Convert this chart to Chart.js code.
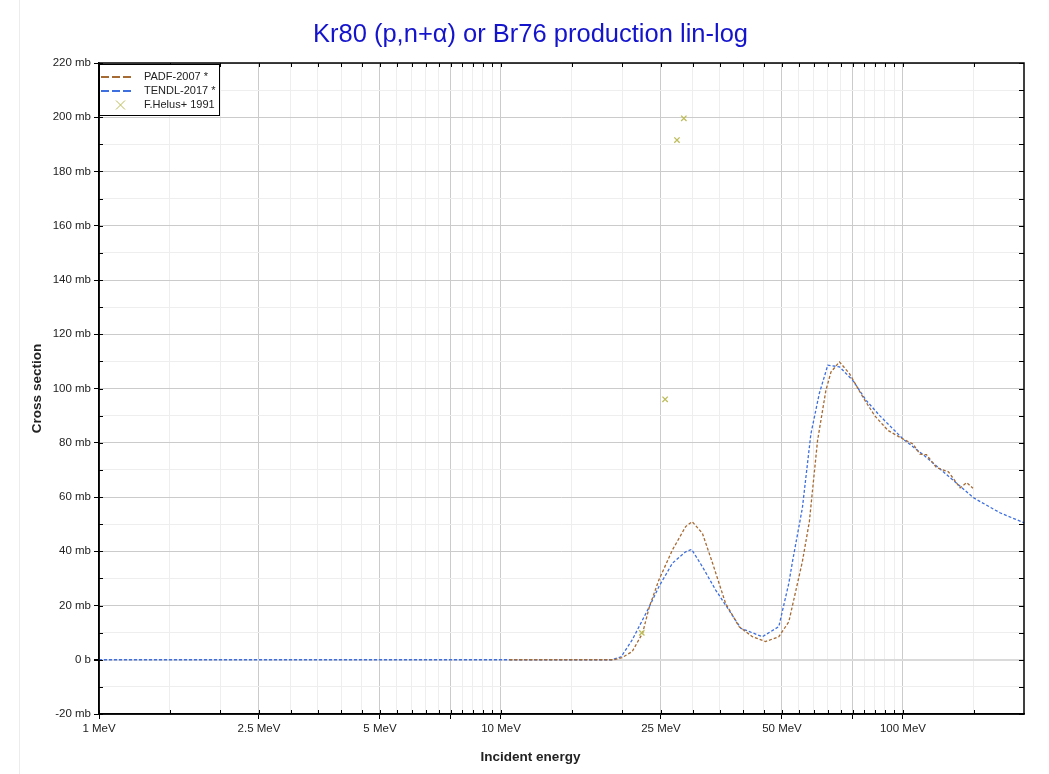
<!DOCTYPE html>
<html>
<head>
<meta charset="utf-8">
<script src="https://cdn.jsdelivr.net/npm/chart.js@4.4.0/dist/chart.umd.min.js"></script>
<style>
  body { margin: 0; background: #fff; }
  canvas { display: block; }
</style>
</head>
<body>
<canvas id="chart" width="1049" height="774"></canvas>
<script>
// PADF-2007 (brown): energy in MeV, cross section in mb
const padfEnergy = [10.5, 19.1, 20.0, 21.2, 22.5, 23.4, 24.7, 26.7, 28.8, 29.9, 31.7, 33.6, 36.2, 39.1, 42.2, 45.5, 49.1, 52.0, 56.2, 58.5, 61.3, 64.3, 66.2, 69.5, 73.6, 79.5, 85.0, 91.8, 100, 106, 110.2, 114.4, 121.2, 129.7, 138.7, 144.1, 149.3];
const padfXs = [0, 0, 0.8, 3.0, 9.8, 19.6, 29.4, 40.5, 49.1, 50.9, 46.6, 35.6, 20.8, 12.2, 8.5, 6.7, 8.5, 14.0, 36.2, 51.0, 80.8, 99.3, 106.1, 109.8, 105.5, 96.8, 90.0, 84.5, 81.4, 79.5, 75.8, 75.6, 70.8, 69.3, 63.4, 65.3, 63.2];

// TENDL-2017 (blue)
const tendlEnergy = [1, 18.9, 19.9, 21.2, 23.4, 24.7, 26.7, 28.8, 29.8, 31.7, 34.2, 36.9, 39.5, 44.7, 49.1, 52.0, 53.1, 56.2, 59.0, 61.9, 65.0, 69.5, 75.0, 81.0, 87.5, 100, 114.4, 130.9, 149.8, 174.7, 200];
const tendlXs = [0, 0, 1.1, 7.3, 19.6, 26.9, 35.6, 39.8, 40.7, 34.3, 25.7, 18.3, 11.6, 8.5, 12.2, 28.2, 36.2, 56.0, 83.2, 98.1, 108.6, 108.0, 103.0, 95.6, 90.0, 81.4, 74.6, 67.2, 59.7, 54.1, 50.5];

// F.Helus+ 1991 measurements
const helusEnergy = [22.4, 25.6, 27.4, 28.5];
const helusXs = [9.9, 96.0, 191.6, 199.6];

// axis ticks
const xTickValues = [1, 1.5, 2, 2.5, 3, 3.5, 4, 4.5, 5, 5.5, 6, 6.5, 7, 7.5, 8, 8.5, 9, 9.5, 10, 15, 20, 25, 30, 35, 40, 45, 50, 55, 60, 65, 70, 75, 80, 85, 90, 95, 100, 150];
const xMajorValues = [1, 2.5, 5, 7.5, 10, 25, 50, 75, 100];
const xLabelValues = [1, 2.5, 5, 10, 25, 50, 100];
const xLabels = ['1 MeV', '2.5 MeV', '5 MeV', '10 MeV', '25 MeV', '50 MeV', '100 MeV'];

const fontFamily = 'Arial, "Liberation Sans", sans-serif';
const padfColor = '#a66a33';
const tendlColor = '#3d6fe0';
const helusColor = '#bdbd5a';

function toPoints(xs, ys) {
    return xs.map((x, i) => ({x: x, y: ys[i]}));
}

function xLabel(v) {
    const i = xLabelValues.indexOf(v);
    return i >= 0 ? xLabels[i] : '';
}

function yLabel(v) {
    if (v % 20 !== 0) return '';
    return v === 0 ? '0 b' : v + ' mb';
}

// faint page edge line at the left
const pageEdge = {
    id: 'pageEdge',
    beforeDraw(chart) {
        const c = chart.ctx;
        c.save();
        c.strokeStyle = '#ececec';
        c.lineWidth = 1;
        c.beginPath();
        c.moveTo(19.5, 0);
        c.lineTo(19.5, chart.height);
        c.stroke();
        c.restore();
    }
};

// frame round the plot area, with the small inner ticks on all four sides
const frameTicks = {
    id: 'frameTicks',
    afterDraw(chart) {
        const {ctx, chartArea: a, scales} = chart;
        ctx.save();
        ctx.strokeStyle = '#000';
        ctx.lineWidth = 1;
        ctx.beginPath();
        scales.x.ticks.forEach(t => {
            const px = Math.round(scales.x.getPixelForValue(t.value)) + 0.5;
            ctx.moveTo(px, a.bottom);
            ctx.lineTo(px, a.bottom - 4);
            ctx.moveTo(px, a.top);
            ctx.lineTo(px, a.top + 4);
        });
        scales.y.ticks.forEach(t => {
            const py = Math.round(scales.y.getPixelForValue(t.value)) + 0.5;
            ctx.moveTo(a.left, py);
            ctx.lineTo(a.left + 4, py);
            ctx.moveTo(a.right, py);
            ctx.lineTo(a.right - 5, py);
        });
        ctx.stroke();
        ctx.lineWidth = 1.5;
        ctx.strokeRect(a.left, a.top, a.right - a.left, a.bottom - a.top);
        ctx.restore();
    }
};

// legend box in the top left corner of the plot
const cornerLegend = {
    id: 'cornerLegend',
    afterDraw(chart) {
        const {ctx, chartArea: a} = chart;
        const x0 = a.left, y0 = a.top + 1;
        ctx.save();
        ctx.fillStyle = '#fff';
        ctx.fillRect(x0, y0, 120, 51);
        ctx.strokeStyle = '#000';
        ctx.lineWidth = 1;
        ctx.strokeRect(x0 + 0.5, y0 + 0.5, 120, 51);

        const rows = [
            {text: 'PADF-2007 *', color: padfColor, kind: 'line'},
            {text: 'TENDL-2017 *', color: tendlColor, kind: 'line'},
            {text: 'F.Helus+ 1991', color: helusColor, kind: 'cross'}
        ];
        ctx.font = '11px ' + fontFamily;
        ctx.textBaseline = 'middle';
        rows.forEach((r, i) => {
            const y = y0 + 13 + i * 14;
            ctx.strokeStyle = r.color;
            if (r.kind === 'line') {
                ctx.lineWidth = 2;
                ctx.setLineDash([8, 3]);
                ctx.beginPath();
                ctx.moveTo(x0 + 2, y);
                ctx.lineTo(x0 + 33, y);
                ctx.stroke();
                ctx.setLineDash([]);
            } else {
                ctx.lineWidth = 1;
                ctx.beginPath();
                ctx.moveTo(x0 + 17, y - 4.5);
                ctx.lineTo(x0 + 26, y + 4.5);
                ctx.moveTo(x0 + 26, y - 4.5);
                ctx.lineTo(x0 + 17, y + 4.5);
                ctx.stroke();
            }
            ctx.fillStyle = '#222';
            ctx.fillText(r.text, x0 + 45, y);
        });
        ctx.restore();
    }
};

const ctx = document.getElementById('chart').getContext('2d');

new Chart(ctx, {
    type: 'line',
    data: {
        datasets: [
            {
                type: 'scatter',
                label: 'F.Helus+ 1991',
                data: toPoints(helusEnergy, helusXs),
                pointStyle: 'crossRot',
                pointRadius: 3.8,
                borderColor: helusColor,
                backgroundColor: helusColor,
                borderWidth: 1.3,
                order: 0
            },
            {
                label: 'PADF-2007 *',
                data: toPoints(padfEnergy, padfXs),
                borderColor: padfColor,
                borderWidth: 1.3,
                borderDash: [3, 2],
                pointRadius: 0,
                tension: 0,
                fill: false,
                order: 1
            },
            {
                label: 'TENDL-2017 *',
                data: toPoints(tendlEnergy, tendlXs),
                borderColor: tendlColor,
                borderWidth: 1.3,
                borderDash: [3, 2],
                pointRadius: 0,
                tension: 0,
                fill: false,
                order: 2
            }
        ]
    },
    options: {
        responsive: false,
        animation: false,
        layout: {padding: {left: 12, right: 0, top: 0, bottom: 0}},
        plugins: {
            legend: {display: false},
            tooltip: {enabled: false},
            title: {
                display: true,
                text: 'Kr80 (p,n+α) or Br76 production lin-log',
                color: '#1414cc',
                font: {size: 25.5, family: fontFamily, weight: 'normal'},
                padding: {top: 19.7, bottom: 12.7}
            },
            subtitle: {
                display: true,
                position: 'bottom',
                text: 'Incident energy',
                color: '#222',
                font: {size: 13.5, family: fontFamily, weight: 'bold'},
                padding: {top: 4, bottom: 8.9}
            }
        },
        scales: {
            x: {
                type: 'logarithmic',
                min: 1,
                max: 200,
                afterBuildTicks: s => { s.ticks = xTickValues.map(v => ({value: v})); },
                afterFit: s => { s.height = 30.9; },
                ticks: {
                    autoSkip: false,
                    maxRotation: 0,
                    padding: 3,
                    color: '#222',
                    font: {size: 11.5, family: fontFamily},
                    callback: v => xLabel(v)
                },
                grid: {
                    color: c => xMajorValues.includes(c.tick.value) ? '#cbcbcb' : '#eeeeee',
                    tickColor: c => xMajorValues.includes(c.tick.value) ? '#000' : 'rgba(0,0,0,0)',
                    tickLength: 5
                },
                border: {color: '#000', width: 1.5}
            },
            y: {
                type: 'linear',
                min: -20,
                max: 220,
                afterFit: s => { s.width = 87; },
                ticks: {
                    stepSize: 10,
                    autoSkip: false,
                    padding: 3,
                    color: '#222',
                    font: {size: 11.5, family: fontFamily},
                    callback: v => yLabel(v)
                },
                grid: {
                    color: c => c.tick.value === 0 ? '#dadada' : (c.tick.value % 20 === 0 ? '#cbcbcb' : '#eeeeee'),
                    lineWidth: c => c.tick.value === 0 ? 2 : 1,
                    tickColor: c => c.tick.value % 20 === 0 ? '#000' : 'rgba(0,0,0,0)',
                    tickLength: 5
                },
                border: {color: '#000', width: 1.5},
                title: {
                    display: true,
                    text: 'Cross section',
                    color: '#222',
                    font: {size: 13.5, family: fontFamily, weight: 'bold'},
                    padding: {top: 16.9}
                }
            },
            // empty right-hand box so the plot stops 25 px short of the canvas edge
            yRight: {
                type: 'linear',
                position: 'right',
                display: true,
                afterFit: s => { s.width = 25; },
                grid: {display: false, drawTicks: false},
                ticks: {display: false},
                border: {display: false}
            }
        }
    },
    plugins: [pageEdge, frameTicks, cornerLegend]
});
</script>
</body>
</html>
